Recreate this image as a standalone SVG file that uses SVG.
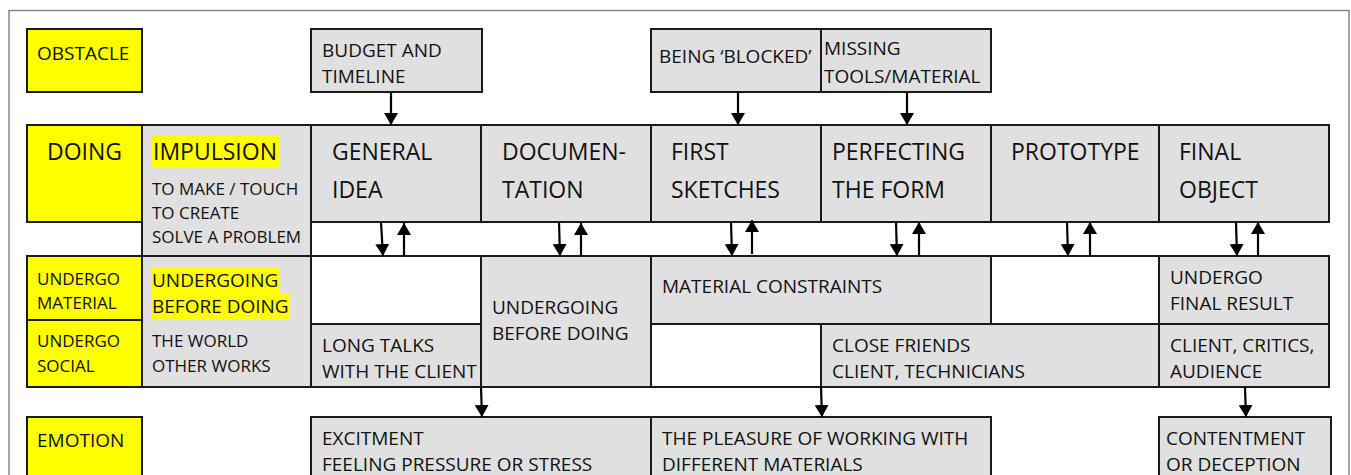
<svg xmlns="http://www.w3.org/2000/svg" width="1351" height="475" viewBox="0 0 1351 475">
<defs>
<style>
text{font-family:"Open Sans","Liberation Sans",sans-serif;fill:#111;}
.s{font-size:17px;}
.m{font-size:19px;}
.l{font-size:23px;}
.y{fill:#ffff00;stroke:#1a1a1a;stroke-width:2;}
.g{fill:#e0e0e0;stroke:#1a1a1a;stroke-width:2;}
.w{fill:#ffffff;stroke:#1a1a1a;stroke-width:2;}
.hl{fill:#ffff00;stroke:none;}
.c{stroke:#000;stroke-width:2.2;fill:none;marker-end:url(#ah);}
</style>
<marker id="ah" viewBox="0 0 12 14" refX="12" refY="7" markerWidth="12" markerHeight="14" markerUnits="userSpaceOnUse" orient="auto">
<path d="M0,0 L12,7 L0,14 z" fill="#000"/>
</marker>
</defs>
<rect x="0" y="0" width="1351" height="475" fill="#fff"/>
<rect x="9" y="10.5" width="1340" height="480" fill="none" stroke="#888" stroke-width="1.5"/>

<g id="obstacle"><rect class="y" x="27" y="29" width="115" height="63"/><text class="m" x="37" y="60">OBSTACLE</text></g>
<g id="budget"><rect class="g" x="311" y="29" width="171" height="63"/><text class="m" x="322" y="57">BUDGET AND</text><text class="m" x="322" y="83">TIMELINE</text></g>
<g id="blocked"><rect class="g" x="651" y="29" width="170" height="63"/><text class="m" x="659" y="63">BEING ‘BLOCKED’</text></g>
<g id="missing"><rect class="g" x="821" y="29" width="170" height="63"/><text class="m" x="824" y="55">MISSING</text><text class="m" x="824" y="83">TOOLS/MATERIAL</text></g>

<g id="doing"><rect class="y" x="27" y="125" width="115" height="97"/><text class="l" x="47" y="160">DOING</text></g>
<g id="impulsion"><rect class="g" x="142" y="125" width="169" height="131"/><rect class="hl" x="151" y="135" width="128" height="33"/><text class="l" x="153" y="160">IMPULSION</text><text class="s" x="152" y="195">TO MAKE / TOUCH</text><text class="s" x="152" y="219">TO CREATE</text><text class="s" x="152" y="243">SOLVE A PROBLEM</text></g>
<g id="general-idea"><rect class="g" x="311" y="125" width="170" height="97"/><text class="l" x="332" y="160">GENERAL</text><text class="l" x="332" y="198">IDEA</text></g>
<g id="documentation"><rect class="g" x="481" y="125" width="170" height="97"/><text class="l" x="502" y="160">DOCUMEN-</text><text class="l" x="502" y="198">TATION</text></g>
<g id="first-sketches"><rect class="g" x="651" y="125" width="170" height="97"/><text class="l" x="671" y="160">FIRST</text><text class="l" x="671" y="198">SKETCHES</text></g>
<g id="perfecting"><rect class="g" x="821" y="125" width="170" height="97"/><text class="l" x="832" y="160">PERFECTING</text><text class="l" x="832" y="198">THE FORM</text></g>
<g id="prototype"><rect class="g" x="991" y="125" width="168" height="97"/><text class="l" x="1011" y="160">PROTOTYPE</text></g>
<g id="final-object"><rect class="g" x="1159" y="125" width="170" height="97"/><text class="l" x="1179" y="160">FINAL</text><text class="l" x="1179" y="198">OBJECT</text></g>

<g id="undergo-material"><rect class="y" x="27" y="256" width="115" height="64"/><text class="s" x="37" y="285">UNDERGO</text><text class="s" x="37" y="309">MATERIAL</text></g>
<g id="undergo-social"><rect class="y" x="27" y="320" width="115" height="67"/><text class="s" x="37" y="347">UNDERGO</text><text class="s" x="37" y="372">SOCIAL</text></g>
<g id="undergoing-before"><rect class="g" x="142" y="256" width="169" height="131"/><rect class="hl" x="151" y="267" width="129" height="27"/><rect class="hl" x="151" y="293" width="139" height="27"/><text class="m" x="152" y="287">UNDERGOING</text><text class="m" x="152" y="313">BEFORE DOING</text><text class="s" x="152" y="347">THE WORLD</text><text class="s" x="152" y="372">OTHER WORKS</text></g>
<g id="empty-1"><rect class="w" x="311" y="256" width="170" height="68"/></g>
<g id="long-talks"><rect class="g" x="311" y="324" width="170" height="63"/><text class="m" x="322" y="352">LONG TALKS</text><text class="m" x="322" y="378">WITH THE CLIENT</text></g>
<g id="undergoing-mid"><rect class="g" x="481" y="256" width="170" height="131"/><text class="m" x="492" y="314">UNDERGOING</text><text class="m" x="492" y="340">BEFORE DOING</text></g>
<g id="material-constraints"><rect class="g" x="651" y="256" width="340" height="68"/><text class="m" x="662" y="293">MATERIAL CONSTRAINTS</text></g>
<g id="empty-2"><rect class="w" x="651" y="324" width="170" height="63"/></g>
<g id="close-friends"><rect class="g" x="821" y="324" width="338" height="63"/><text class="m" x="832" y="352">CLOSE FRIENDS</text><text class="m" x="832" y="378">CLIENT, TECHNICIANS</text></g>
<g id="empty-3"><rect class="w" x="991" y="256" width="168" height="68"/></g>
<g id="undergo-final"><rect class="g" x="1159" y="256" width="170" height="68"/><text class="m" x="1170" y="284">UNDERGO</text><text class="m" x="1170" y="310">FINAL RESULT</text></g>
<g id="client-critics"><rect class="g" x="1159" y="324" width="170" height="63"/><text class="m" x="1170" y="352">CLIENT, CRITICS,</text><text class="m" x="1170" y="378">AUDIENCE</text></g>

<g id="emotion"><rect class="y" x="27" y="417" width="115" height="70"/><text class="m" x="37" y="447">EMOTION</text></g>
<g id="excitment"><rect class="g" x="311" y="417" width="340" height="70"/><text class="m" x="322" y="445">EXCITMENT</text><text class="m" x="322" y="471">FEELING PRESSURE OR STRESS</text></g>
<g id="pleasure"><rect class="g" x="651" y="417" width="340" height="70"/><text class="m" x="662" y="445">THE PLEASURE OF WORKING WITH</text><text class="m" x="662" y="471">DIFFERENT MATERIALS</text></g>
<g id="contentment"><rect class="g" x="1159" y="417" width="172" height="70"/><text class="m" x="1166" y="445">CONTENTMENT</text><text class="m" x="1166" y="471">OR DECEPTION</text></g>

<g id="connectors">
<line class="c" x1="391" y1="92" x2="391" y2="125"/>
<line class="c" x1="738" y1="92" x2="738" y2="125"/>
<line class="c" x1="907" y1="92" x2="907" y2="125"/>
<line class="c" x1="381" y1="222" x2="383" y2="256"/>
<line class="c" x1="404" y1="256" x2="404" y2="223"/>
<line class="c" x1="559" y1="222" x2="560" y2="256"/>
<line class="c" x1="581" y1="256" x2="581" y2="223"/>
<line class="c" x1="731" y1="222" x2="732" y2="256"/>
<line class="c" x1="752" y1="254" x2="752" y2="220"/>
<line class="c" x1="896" y1="222" x2="897" y2="256"/>
<line class="c" x1="919" y1="256" x2="919" y2="222"/>
<line class="c" x1="1067" y1="222" x2="1068" y2="256"/>
<line class="c" x1="1090" y1="256" x2="1090" y2="222"/>
<line class="c" x1="1236" y1="222" x2="1237" y2="256"/>
<line class="c" x1="1258" y1="256" x2="1258" y2="222"/>
<line class="c" x1="481" y1="387" x2="482" y2="417"/>
<line class="c" x1="821" y1="387" x2="822" y2="417"/>
<line class="c" x1="1245" y1="387" x2="1246" y2="417"/>
</g>
</svg>
